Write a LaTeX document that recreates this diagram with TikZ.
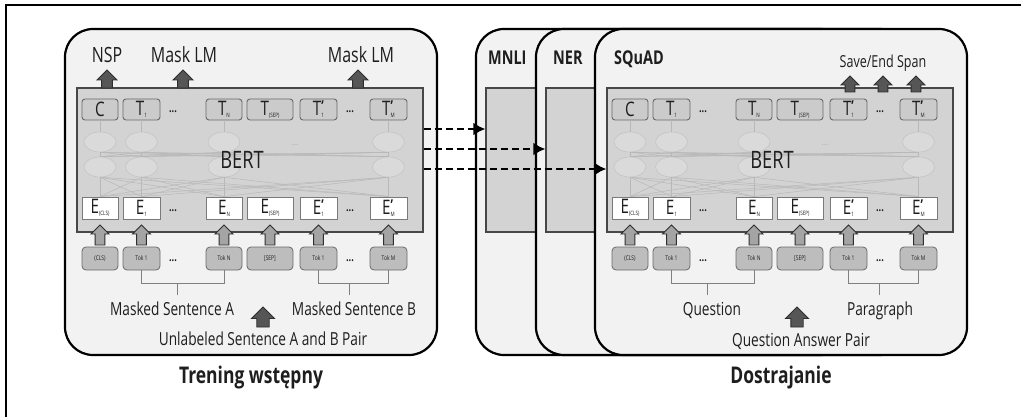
\documentclass[tikz,border=0pt]{standalone}
\usepackage{fontspec}
\setmainfont{Open Sans}[FakeStretch=0.76]
\usetikzlibrary{arrows.meta,shapes.geometric}
\definecolor{cardfill}{HTML}{F2F2F2}
\definecolor{grayfill}{HTML}{D3D3D3}
\definecolor{grayedge}{HTML}{474747}
\definecolor{tfill}{HTML}{CBCBCB}
\definecolor{tedge}{HTML}{6A6A6A}
\definecolor{eedge}{HTML}{7A7A7A}
\definecolor{tokfill}{HTML}{BDBDBD}
\definecolor{upfill}{HTML}{A4A4A4}
\definecolor{darkfill}{HTML}{565656}
\definecolor{arrowedge}{HTML}{2E2E2E}
\definecolor{faintedge}{HTML}{C4C4C4}
\definecolor{faintfill}{HTML}{DADADA}
\definecolor{faintline}{HTML}{B8B8B8}
\definecolor{txt}{HTML}{1E1E1E}

\newcommand\bsub[2]{#1\raisebox{-2pt}{\fontsize{6}{6}\selectfont #2}}
\newcommand\bsubp[2]{#1\rlap{\raisebox{4pt}{\fontsize{15}{15}\selectfont\bfseries '}}\raisebox{-2pt}{\fontsize{6}{6}\selectfont #2}}
\newcommand\blockarr[5]{%
  \draw[#1] (#2,#3) -- (#2+#5/2,#3+#5/2) -- (#2+#5*0.27,#3+#5/2) -- (#2+#5*0.27,#4)
    -- (#2-#5*0.27,#4) -- (#2-#5*0.27,#3+#5/2) -- (#2-#5/2,#3+#5/2) -- cycle;}

\tikzset{
  card/.style={draw=black, line width=2.2pt, fill=cardfill, rounded corners=28pt, inner sep=0,
    minimum width=372pt, minimum height=326pt},
  graybox/.style={draw=grayedge, line width=1.4pt, fill=grayfill, inner sep=0,
    minimum width=346pt, minimum height=144pt},
  tbox/.style={draw=tedge, line width=0.9pt, fill=tfill, rounded corners=3pt, minimum height=21pt,
    inner sep=0, text=txt, font=\fontsize{20}{20}\selectfont},
  ebox/.style={draw=eedge, line width=0.9pt, fill=white, minimum height=22pt,
    inner sep=0, text=txt, font=\fontsize{20}{20}\selectfont},
  tokbox/.style={draw=tedge, line width=0.8pt, fill=tokfill, rounded corners=4pt, minimum height=23pt,
    inner sep=0, text=txt, font=\fontsize{6.5}{6.5}\selectfont},
  ell/.style={ellipse, draw=faintedge, fill=faintfill, line width=0.6pt, minimum width=32pt,
    minimum height=20pt, inner sep=0},
  fline/.style={draw=faintline, line width=0.5pt},
  grayarrow/.style={fill=upfill, draw=arrowedge, line width=0.9pt, line join=miter},
  darkarrow/.style={fill=darkfill, draw=arrowedge, line width=0.9pt, line join=miter},
  dasharr/.style={line width=2.2pt, dash pattern=on 7pt off 4pt, -{Latex[length=12pt,width=13pt]}},
  toplbl/.style={font=\fontsize{21}{21}\selectfont, anchor=base, inner sep=0, text=txt},
  botlbl/.style={font=\fontsize{18}{18}\selectfont, anchor=base, inner sep=0, text=txt},
  titlelbl/.style={font=\bfseries\fontsize{19}{19}\selectfont, anchor=base west, inner sep=0, text=txt},
  caption/.style={font=\bfseries\fontsize{23}{23}\selectfont, anchor=base, inner sep=0, text=txt},
  dots/.style={font=\bfseries\fontsize{12}{12}\selectfont, inner sep=0, text=txt},
  bracket/.style={draw=gray, line width=0.9pt},
}

\newcommand\bertcore[1]{%
  \node[graybox] (#1gray) at (250,160) {};
  \foreach \n/\cx in {1/100,2/141.5,3/224,6/388.5}{
    \node[ell] (#1ea\n) at (\cx,167) {};
    \node[ell] (#1eb\n) at (\cx,142) {};
  }
  \node[font=\fontsize{11}{11}\selectfont, text=gray!60] (#1edots) at (295,145) {...};
  \foreach \n/\cx/\w/\T/\E/\K in {
      1/100/36/{C}/{\bsub{E}{(CLS)}}/{(CLS)},
      2/141.5/37/{\bsub{T}{1}}/{\bsub{E}{1}}/{Tok 1},
      3/224/36/{\bsub{T}{N}}/{\bsub{E}{N}}/{Tok N},
      4/270/46/{\bsub{T}{(SEP)}}/{\bsub{E}{(SEP)}}/{[SEP]},
      5/318.5/37/{\bsubp{T}{1}}/{\bsubp{E}{1}}/{Tok 1},
      6/388.5/37/{\bsubp{T}{M}}/{\bsubp{E}{M}}/{Tok M}}{
    \node[tbox, minimum width=\w pt] (#1t\n) at (\cx,109.5) {\T};
    \node[ebox, minimum width=\w pt] (#1e\n) at (\cx,208) {\E};
    \node[tokbox, minimum width=\w pt] (#1k\n) at (\cx,258.5) {\K};
    \blockarr{grayarrow}{\cx}{225}{245}{18}
  }
  \foreach \i in {1,2,3,6}{
    \foreach \j in {1,2,3,6}{
      \draw[fline] (#1e\i.north) -- (#1ea\j.south);
      \draw[fline] (#1ea\i.north) -- (#1eb\j.south);
    }
    \draw[fline] (#1eb\i.north) -- (#1t\i.south);
  }
  \node[font=\fontsize{24}{24}\selectfont, text=txt] (#1bert) at (242,160) {BERT};
  \foreach \x/\nm in {173/a,350/b}{
    \node[dots] (#1td\nm) at (\x,112) {...};
    \node[dots] (#1ed\nm) at (\x,211) {...};
    \node[dots] (#1kd\nm) at (\x,261) {...};
  }
  \draw[bracket] (#1k2.south) -- ++(0,13) -| (#1k3.south);
  \draw[bracket] (#1k5.south) -- ++(0,13) -| (#1k6.south);
  \draw[bracket] (177,283) -- (177,295);
  \draw[bracket] (349,283) -- (349,295);
}

\begin{document}
\begin{tikzpicture}[x=1pt,y=-1pt]
\useasboundingbox (0,0) rectangle (1025,417);
\fill[white] (0,0) rectangle (1025,417);
\draw[line width=2.5pt] (1021,5) -- (6,5) -- (6,417);

% ---------- pre-training panel ----------
\node[card] (Lcard) at (251,192) {};
\bertcore{L}
\node[toplbl] (nsp) at (107,63) {NSP};
\node[toplbl] (mlm1) at (184,63) {Mask LM};
\node[toplbl] (mlm2) at (361,63) {Mask LM};
\blockarr{darkarrow}{107}{70}{88}{20}
\blockarr{darkarrow}{183}{70}{88}{20}
\blockarr{darkarrow}{358}{70}{88}{20}
\node[botlbl] (msa) at (172,315) {Masked Sentence A};
\node[botlbl] (msb) at (354,315) {Masked Sentence B};
\blockarr{darkarrow}{263}{307}{327}{23}
\node[botlbl] (pairL) at (263,345) {Unlabeled Sentence A and B Pair};
\node[caption] (capL) at (251,383) {Trening wstępny};

% ---------- fine-tuning cards ----------
\node[card] (mnli) at (662,192) {};
\node[graybox] (mnligray) at (659,160) {};
\node[titlelbl] (mnlilbl) at (488,65) {MNLI};
\node[card] (ner) at (722,192) {};
\node[graybox] (nergray) at (719,160) {};
\node[titlelbl] (nerlbl) at (553,65) {NER};
\begin{scope}[xshift=530pt]
  \node[card] (squad) at (251,192) {};
  \bertcore{R}
\end{scope}
\node[titlelbl] (squadlbl) at (614,65) {SQuAD};
\node[font=\fontsize{16.5}{16.5}\selectfont, anchor=base, inner sep=0, text=txt] (span) at (883,68) {Save/End Span};
\blockarr{darkarrow}{850}{76}{92}{18}
\blockarr{darkarrow}{883}{76}{92}{18}
\blockarr{darkarrow}{916}{76}{92}{18}
\node[botlbl] (quest) at (712,315) {Question};
\node[botlbl] (para) at (880,315) {Paragraph};
\blockarr{darkarrow}{797}{307}{327}{23}
\node[botlbl] (pairR) at (801,346) {Question Answer Pair};
\node[caption] (capR) at (781,383) {Dostrajanie};

% ---------- transfer arrows ----------
\draw[dasharr] ([yshift=31pt]Lgray.east) -- ([yshift=31pt]mnligray.west);
\draw[dasharr] ([yshift=11pt]Lgray.east) -- ([yshift=11pt]nergray.west);
\draw[dasharr] ([yshift=-9pt]Lgray.east) -- ([yshift=-9pt]Rgray.west);
\end{tikzpicture}
\end{document}
